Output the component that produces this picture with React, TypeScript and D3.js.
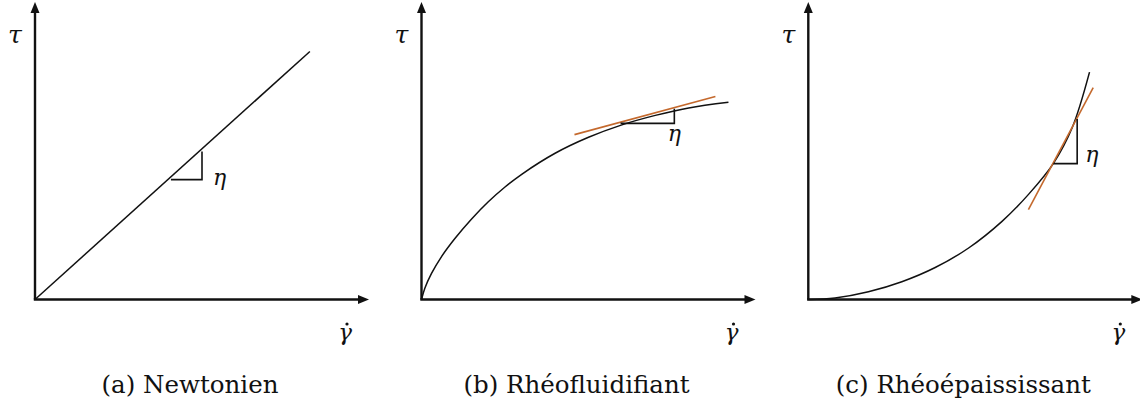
import React from "react";
import * as d3 from "d3";

// Panel captions
const captions = ["(a) Newtonien", "(b) Rhéofluidifiant", "(c) Rhéoépaississant"];

// Flow curves, shear rate (x) vs shear stress (y), in axis units 0–100
const newtonianCurve: [number, number][] = [
  [0, 0],
  [82.3, 83.8],
];

const shearThinningCurve: [number, number][] = [
  [0, 0],
  [1, 3.8],
  [3, 8.8],
  [6, 14.5],
  [10, 20.6],
  [15, 27.2],
  [20, 33.0],
  [25, 38.0],
  [30, 42.3],
  [40, 49.4],
  [50, 54.8],
  [60, 59.0],
  [70, 62.2],
  [80, 64.7],
  [91.9, 66.6],
];

const shearThickeningCurve: [number, number][] = [
  [0, 0],
  [8, 0.5],
  [18, 2.6],
  [28, 6.0],
  [38, 10.8],
  [48, 17.4],
  [58, 26.4],
  [66, 35.6],
  [73.4, 46.0],
  [79, 58.0],
  [84.2, 76.8],
];

// Tangent segments (start, end) — none for the Newtonian case
const tangents: ([number, number][] | null)[] = [
  null,
  [
    [45.8, 55.7],
    [88.0, 68.6],
  ],
  [
    [65.9, 30.4],
    [85.3, 71.6],
  ],
];

// Slope triangles: contact point and horizontal run, with the slope used
const slopeTriangles = [
  { x: 40.7, y: 40.5, run: 9.3, slope: 83.8 / 82.3 },
  { x: 59.6, y: 59.5, run: 16.1, slope: (68.6 - 55.7) / (88.0 - 45.8) },
  { x: 73.4, y: 45.9, run: 7.1, slope: (71.6 - 30.4) / (85.3 - 65.9) },
];

const curves = [newtonianCurve, shearThinningCurve, shearThickeningCurve];

// Layout
const W = 1140;
const H = 410;
const originsX = [35, 421.5, 808.3];
const originY = 299.5;
const axisLen = 334;
const axisTop = 2;
const etaOffsets = [
  { dx: 11, dy: 5, anchor: "start" },
  { dx: 0, dy: 18, anchor: "middle" },
  { dx: 8, dy: -2, anchor: "start" },
];

const ORANGE = "#c4692d";
const INK = "#111";
const mathFont = "DejaVu Serif, Liberation Serif, serif";
const textFont = "DejaVu Serif, Liberation Serif, serif";

function Panel({ i }: { i: number }) {
  const ox = originsX[i];
  const x = d3.scaleLinear().domain([0, 100]).range([ox, ox + axisLen]);
  const y = d3.scaleLinear().domain([0, 100]).range([originY, originY - 296]);

  const straight = d3
    .line<[number, number]>()
    .x((d) => x(d[0]))
    .y((d) => y(d[1]));
  const smooth = d3
    .line<[number, number]>()
    .x((d) => x(d[0]))
    .y((d) => y(d[1]))
    .curve(d3.curveCatmullRom.alpha(0.5));

  const tri = slopeTriangles[i];
  const triPts: [number, number][] = [
    [tri.x, tri.y],
    [tri.x + tri.run, tri.y],
    [tri.x + tri.run, tri.y + tri.run * tri.slope],
  ];
  const cornerX = x(tri.x + tri.run);
  const cornerY = y(tri.y);
  const eo = etaOffsets[i];
  const tg = tangents[i];

  const xEnd = ox + axisLen;
  return (
    <g>
      {/* axes */}
      <line x1={ox} y1={originY} x2={ox} y2={axisTop + 9} stroke={INK} strokeWidth={2.4} />
      <path d={`M${ox},${axisTop} L${ox - 4.5},${axisTop + 11} L${ox + 4.5},${axisTop + 11} Z`} fill={INK} />
      <line x1={ox - 1.2} y1={originY} x2={xEnd - 9} y2={originY} stroke={INK} strokeWidth={2.4} />
      <path d={`M${xEnd},${originY} L${xEnd - 11},${originY - 4.5} L${xEnd - 11},${originY + 4.5} Z`} fill={INK} />

      {/* axis labels */}
      <text x={ox - 20} y={43} fontFamily={mathFont} fontStyle="italic" fontSize={25} textAnchor="middle" fill={INK}>
        τ
      </text>
      <text x={xEnd - 24} y={340} fontFamily={mathFont} fontStyle="italic" fontSize={23} textAnchor="middle" fill={INK}>
        γ
      </text>
      <circle cx={xEnd - 22} cy={324} r={1.6} fill={INK} />

      {/* flow curve */}
      <path d={(i === 0 ? straight : smooth)(curves[i]) ?? ""} fill="none" stroke={INK} strokeWidth={1.5} />

      {/* tangent */}
      {tg && <path d={straight(tg) ?? ""} fill="none" stroke={ORANGE} strokeWidth={1.6} />}

      {/* slope triangle */}
      <path d={straight(triPts) ?? ""} fill="none" stroke={INK} strokeWidth={1.6} />
      <text
        x={cornerX + eo.dx}
        y={cornerY + eo.dy}
        fontFamily={mathFont}
        fontStyle="italic"
        fontSize={22}
        textAnchor={eo.anchor as any}
        fill={INK}
      >
        η
      </text>

      {/* caption */}
      <text x={ox + 155} y={393} fontFamily={textFont} fontSize={24.5} textAnchor="middle" fill={INK}>
        {captions[i]}
      </text>
    </g>
  );
}

export default function App() {
  return (
    <svg
      width={W}
      height={H}
      viewBox={`0 0 ${W} ${H}`}
      style={{ position: "absolute", left: 0, top: 0, display: "block", background: "#fff" }}
    >
      <rect width={W} height={H} fill="#fff" />
      {[0, 1, 2].map((i) => (
        <Panel key={i} i={i} />
      ))}
    </svg>
  );
}
